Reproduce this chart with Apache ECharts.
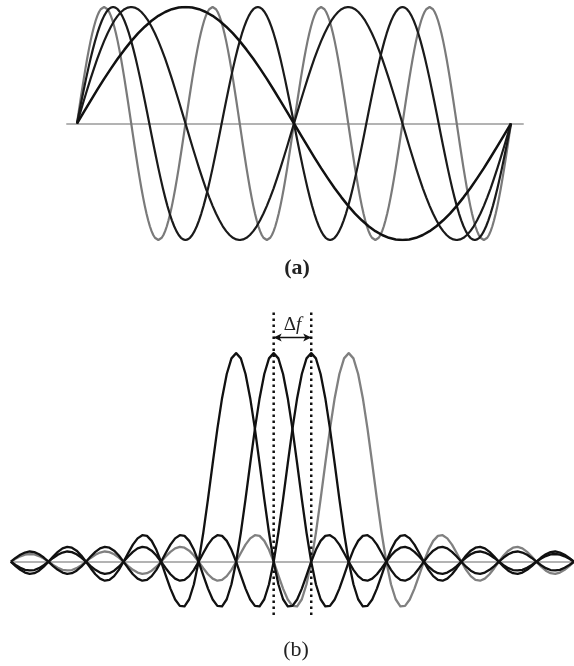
<!DOCTYPE html>
<html>
<head>
<meta charset="utf-8">
<script src="https://cdn.jsdelivr.net/npm/echarts@6/dist/echarts.min.js"></script>
<style>
  html, body { margin: 0; background: #fff; }
  #chart { width: 574px; height: 666px; }
</style>
</head>
<body>
<div id="chart"></div>
<script>
// (a) subcarriers in time: one quarter of a wave read at 17 points, and the cycles per symbol
const quarterWave = [0,.098,.195,.290,.383,.471,.556,.634,.707,.773,.831,.882,.924,.957,.981,.995,1];
const cycles = [4, 3, 2, 1];
const waveColors = ['#7a7a7a', '#1a1a1a', '#1a1a1a', '#111'];
const waveWidths = [2.2, 2.2, 2.2, 2.5];
const symbolLen = 32;

// (b) spectrum of one subcarrier, read every eighth of Δf from its centre outwards
const lobeStep = 0.125;
const lobeShape = [
  1,.975,.900,.784,.637,.471,.300,.139,
  0,-.108,-.180,-.214,-.212,-.181,-.129,-.065,
  0,.057,.100,.124,.127,.112,.082,.042,
  0,-.039,-.069,-.087,-.091,-.081,-.060,-.031,
  0,.030,.053,.067,.071,.064,.047,.025,
  0,-.024,-.043,-.055,-.058,-.052,-.039,-.021,
  0,.020,.036,.046,.049,.044,.033,.018,
  0,-.017,-.031,-.040,-.042,-.039,-.029,-.016,
  0,.015,.027,.035,.037,.034,.026,.014,
  0
];
const centres = [-1, 0, 1, 2];          // subcarrier centres in units of Δf
const specColors = ['#111', '#111', '#111', '#808080'];
const fRange = [-7, 8];
const dashX = [0, 1];                    // the two marked subcarriers
const dashY = [-0.255, 1.21];
const arrowY = 1.075;

function wave(k) {
  const n = quarterWave.length - 1;
  const qLen = symbolLen / (4 * k);
  const pts = [];
  for (let q = 0; q < 4 * k; q++) {
    for (let j = 0; j < n; j++) {
      const part = q % 4;
      let v = (part === 0 || part === 2) ? quarterWave[j] : quarterWave[n - j];
      if (part >= 2) v = -v;
      pts.push([(q + j / n) * qLen, v]);
    }
  }
  pts.push([symbolLen, 0]);
  return pts;
}

function spectrum(c) {
  const pts = [];
  for (let i = fRange[0] / lobeStep; i <= fRange[1] / lobeStep; i++) {
    const x = i * lobeStep;
    const k = Math.round(Math.abs(x - c) / lobeStep);
    pts.push([x, k < lobeShape.length ? lobeShape[k] : 0]);
  }
  return pts;
}

const waveSeries = cycles.map((k, i) => ({
  type: 'line', xAxisIndex: 0, yAxisIndex: 0, symbol: 'none', smooth: false,
  lineStyle: { color: waveColors[i], width: waveWidths[i], join: 'round' },
  data: wave(k)
}));

const specSeries = centres.map((c, i) => ({
  type: 'line', xAxisIndex: 1, yAxisIndex: 1, symbol: 'none', smooth: false,
  z: i === 3 ? 1 : 2,
  lineStyle: { color: specColors[i], width: 2.3, join: 'round' },
  data: spectrum(c)
}));

const dashSeries = dashX.map((x, i) => ({
  type: 'line', xAxisIndex: 1, yAxisIndex: 1, symbol: 'none', z: 3,
  lineStyle: { color: '#111', width: 2.5, type: [2.5, 3.5] },
  data: [[x, dashY[0]], [x, dashY[1]]],
  markLine: i === 0 ? {
    silent: true,
    symbol: ['arrow', 'arrow'],
    symbolSize: [6, 8],
    lineStyle: { color: '#111', width: 1.3, type: 'solid' },
    label: {
      show: true, position: 'middle', distance: 3,
      formatter: '{d|Δ}{f|f}',
      rich: {
        d: { fontFamily: 'Liberation Serif', fontSize: 19, color: '#222' },
        f: { fontFamily: 'Liberation Serif', fontSize: 19, fontStyle: 'italic', color: '#222' }
      }
    },
    data: [[{ coord: [dashX[0], arrowY] }, { coord: [dashX[1], arrowY] }]]
  } : undefined
}));

const hiddenY = { type: 'value', show: false };
const zeroAxis = {
  type: 'value',
  axisLine: { show: true, onZero: true, lineStyle: { color: '#9a9a9a', width: 1.5 } },
  axisTick: { show: false }, axisLabel: { show: false }, splitLine: { show: false }
};

let myChart = echarts.init(document.getElementById('chart'));
myChart.setOption({
  animation: false,
  backgroundColor: '#fff',
  grid: [
    { left: 66.8, top: 7, width: 456.4, height: 233 },
    { left: 10.9, top: 301, width: 567, height: 374.5 }
  ],
  xAxis: [
    Object.assign({ gridIndex: 0, min: -0.75, max: 32.9 }, zeroAxis),
    Object.assign({ gridIndex: 1, min: fRange[0], max: fRange[1] }, zeroAxis)
  ],
  yAxis: [
    Object.assign({ gridIndex: 0, min: -1, max: 1 }, hiddenY),
    Object.assign({ gridIndex: 1, min: -0.5, max: 1.25 }, hiddenY)
  ],
  graphic: [
    { type: 'text', x: 297, y: 268, style: { text: '(a)', textAlign: 'center', textVerticalAlign: 'middle', fontFamily: 'Liberation Serif', fontSize: 22, fontWeight: 'bold', fill: '#222' } },
    { type: 'text', x: 296, y: 650, style: { text: '(b)', textAlign: 'center', textVerticalAlign: 'middle', fontFamily: 'Liberation Serif', fontSize: 22, fill: '#222' } }
  ],
  series: waveSeries.concat(specSeries, dashSeries)
});
</script>
</body>
</html>
